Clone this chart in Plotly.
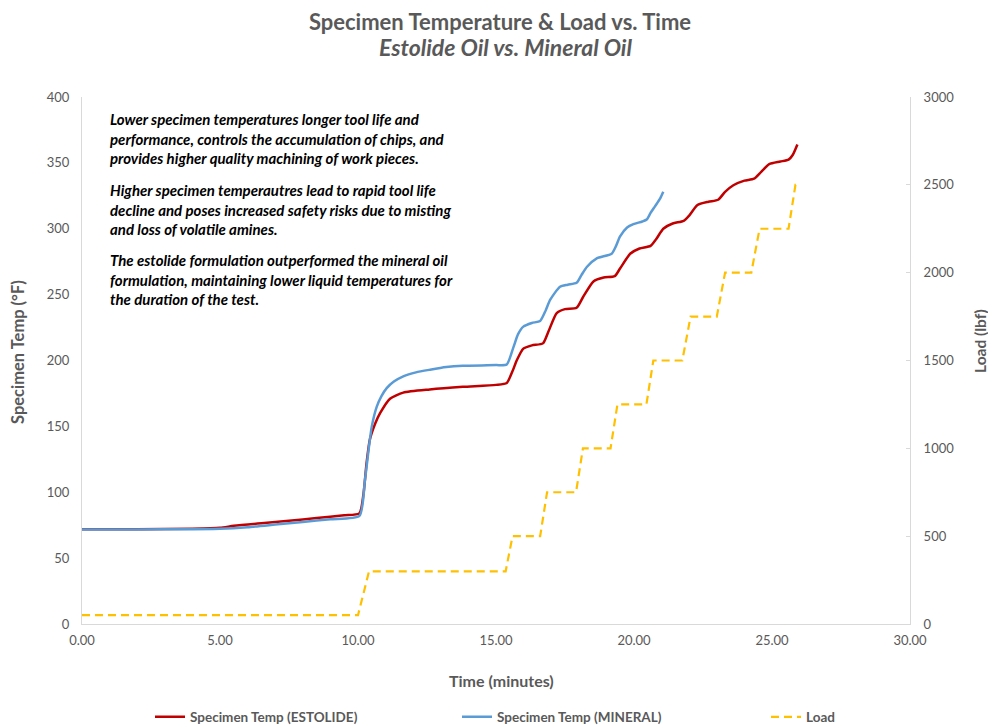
import plotly.graph_objects as go

# ---- data ----
est_time = [0, 2, 4, 5, 5.5, 6.5, 7.5, 8.5, 9.5, 10.05, 10.2, 10.31, 10.43, 10.62, 10.8,
            11.16, 11.64, 12.6, 13.8, 15.0, 15.39, 15.6, 15.75, 15.99, 16.3, 16.7, 16.9,
            17.2, 17.5, 17.92, 18.15, 18.53, 18.9, 19.3, 19.5, 19.86, 20.2, 20.6, 20.8,
            21.06, 21.4, 21.8, 22.0, 22.3, 22.7, 23.05, 23.3, 23.6, 24.0, 24.35, 24.6,
            24.9, 25.3, 25.6, 25.75, 25.92]
est_temp = [72, 72, 72.3, 73, 74.5, 76.5, 78.3, 80.5, 82.5, 84, 99, 122, 140, 152, 160,
            171, 175.6, 178, 180, 181.5, 183, 192, 200, 209, 211.5, 213, 222,
            236, 239, 240, 248, 260, 263, 264, 270, 281, 285, 287, 292,
            300, 304, 306, 310, 318, 320.5, 322, 328, 333, 336.5, 338, 343,
            349, 351, 352.5, 356, 364]

min_time = [0, 2, 4, 5, 6, 7, 8, 9, 10.05, 10.25, 10.4, 10.5, 10.68, 10.85, 11.04, 11.3,
            11.64, 12.1, 12.61, 13.2, 13.8, 15.0, 15.39, 15.63, 15.8, 15.99, 16.3, 16.6,
            16.8, 16.96, 17.32, 17.6, 17.92, 18.1, 18.29, 18.65, 19.19, 19.35, 19.49,
            19.75, 19.98, 20.3, 20.46, 20.6, 20.76, 20.95, 21.06]
min_temp = [71.8, 71.8, 72, 72.3, 73.5, 75.5, 77.5, 79.5, 82, 109, 135, 150, 165, 173, 179, 184,
            188, 191, 193, 195, 196, 196.5, 197, 210, 220, 225.7, 228.5, 230,
            238, 246, 256, 257.5, 259, 265, 271, 277.5, 281, 287, 294,
            301, 303.5, 305.5, 307, 312, 317, 323, 328]

load_time = [0, 10.0, 10.4, 15.35, 15.6, 16.6, 16.85, 17.9, 18.15, 19.15, 19.4, 20.45,
             20.7, 21.75, 22.05, 23.0, 23.3, 24.25, 24.55, 25.6, 25.85, 25.95]
load_lbf = [50, 50, 300, 300, 500, 500, 750, 750, 1000, 1000, 1250, 1250,
            1500, 1500, 1750, 1750, 2000, 2000, 2250, 2250, 2500, 2500]

x_ticks = [0, 5, 10, 15, 20, 25, 30]
temp_ticks = [0, 50, 100, 150, 200, 250, 300, 350, 400]
load_ticks = [0, 500, 1000, 1500, 2000, 2500, 3000]

title_text = "Specimen Temperature & Load vs. Time"
subtitle_text = "Estolide Oil vs. Mineral Oil"
x_title = "Time (minutes)"
y_title = "Specimen Temp (°F)"
y2_title = "Load (lbf)"

notes = [
    "Lower specimen temperatures longer tool life and<br>performance, controls the accumulation of chips, and<br>provides higher quality machining of work pieces.",
    "Higher specimen temperautres lead to rapid tool life<br>decline and poses increased safety risks due to misting<br>and loss of volatile amines.",
    "The estolide formulation outperformed the mineral oil<br>formulation, maintaining lower liquid temperatures for<br>the duration of the test.",
]

FONT = "Lato"
GREY = "#595959"
AXIS = "#D9D9D9"

# plot-area geometry (pixels)
L, R, T, B = 82, 910, 97, 624
PW, PH = R - L, B - T


def px_x(p):
    return (p - L) / PW


def px_y(p):
    return (B - p) / PH


fig = go.Figure()
fig.add_trace(go.Scatter(x=est_time, y=est_temp, mode="lines", name="Specimen Temp (ESTOLIDE)",
                         legend="legend",
                         line=dict(color="#C00000", width=2.5, shape="spline", smoothing=0.6)))
fig.add_trace(go.Scatter(x=min_time, y=min_temp, mode="lines", name="Specimen Temp (MINERAL)",
                         legend="legend2",
                         line=dict(color="#5B9BD5", width=2.5, shape="spline", smoothing=0.6)))
fig.add_trace(go.Scatter(x=load_time, y=load_lbf, mode="lines", name="Load", yaxis="y2",
                         legend="legend3",
                         line=dict(color="#FFC000", width=2.2, dash="8px,5px")))

annots = []
for i, txt in enumerate(notes):
    annots.append(dict(text="<b><i>" + txt + "</i></b>", xref="paper", yref="paper",
                       x=px_x(108), y=px_y(108 + i * 70.5),
                       xanchor="left", yanchor="top", align="left", showarrow=False,
                       font=dict(family=FONT, size=15, color="black")))

# subtitle
annots.append(dict(text="<b><i>" + subtitle_text + "</i></b>", xref="paper", yref="paper",
                   x=px_x(505), y=px_y(47), xanchor="center", yanchor="middle", showarrow=False,
                   font=dict(family=FONT, size=23, color=GREY)))
# axis titles
annots.append(dict(text="<b>" + x_title + "</b>", xref="paper", yref="paper",
                   x=px_x(501), y=px_y(680), xanchor="center", yanchor="middle", showarrow=False,
                   font=dict(family=FONT, size=16, color=GREY)))
annots.append(dict(text="<b>" + y_title + "</b>", xref="paper", yref="paper", textangle=-90,
                   x=px_x(18), y=px_y(352), xanchor="center", yanchor="middle", showarrow=False,
                   font=dict(family=FONT, size=16.5, color=GREY)))
annots.append(dict(text="<b>" + y2_title + "</b>", xref="paper", yref="paper", textangle=-90,
                   x=px_x(980), y=px_y(341), xanchor="center", yanchor="middle", showarrow=False,
                   font=dict(family=FONT, size=15.5, color=GREY)))

leg_common = dict(orientation="h", xref="container", yref="container", y=(728 - 717) / 728,
                  xanchor="left", yanchor="middle", bgcolor="rgba(0,0,0,0)",
                  font=dict(size=13.5, color=GREY, family=FONT, weight="bold"), itemwidth=30)

fig.update_layout(
    width=988, height=728,
    margin=dict(l=L, r=988 - R, t=T, b=728 - B),
    paper_bgcolor="white", plot_bgcolor="white",
    font=dict(family=FONT, color=GREY, size=13),
    title=dict(text="<b>" + title_text + "</b>", x=500 / 988, xanchor="center", xref="container",
               y=1 - 22 / 728, yanchor="middle", yref="container",
               font=dict(family=FONT, size=22, color=GREY)),
    xaxis=dict(range=[0, 30], tickvals=x_ticks, tickformat=".2f", showgrid=False, zeroline=False,
               showline=True, linecolor=AXIS, linewidth=1, ticks="", ticklabelstandoff=4),
    yaxis=dict(range=[0, 400], tickvals=temp_ticks, showgrid=False, zeroline=False,
               showline=True, linecolor=AXIS, linewidth=1, ticks="", ticklabelstandoff=9),
    yaxis2=dict(range=[0, 3000], tickvals=load_ticks, overlaying="y", side="right", showgrid=False,
                zeroline=False, showline=True, linecolor=AXIS, linewidth=1, ticks="inside",
                ticklen=4, tickcolor=AXIS, ticklabelstandoff=10),
    legend=dict(x=150 / 988, **leg_common),
    legend2=dict(x=457 / 988, **leg_common),
    legend3=dict(x=766 / 988, **leg_common),
    annotations=annots,
    showlegend=True,
)

fig.write_html("out.html")
